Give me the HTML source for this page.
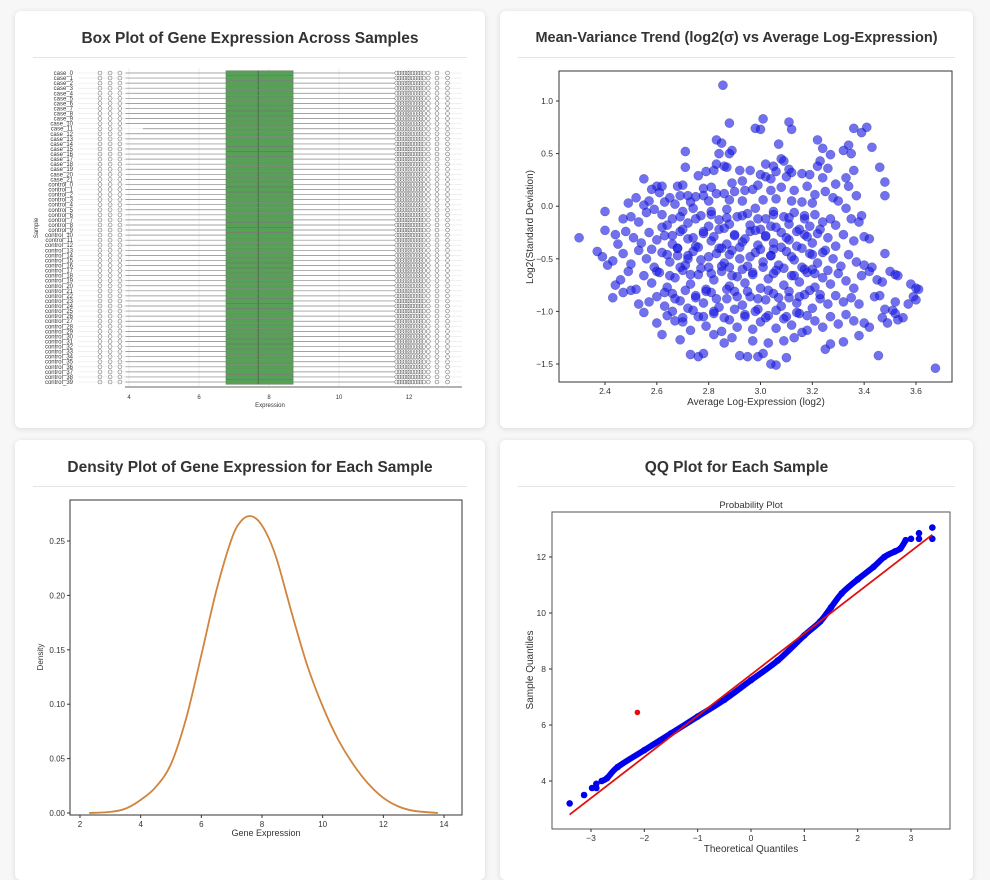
<!DOCTYPE html>
<html><head><meta charset="utf-8">
<style>
body{margin:0;background:#f7f7f7;width:990px;height:873px;overflow:hidden;font-family:"Liberation Sans",sans-serif;}
.card{position:absolute;background:#fff;border-radius:6px;box-shadow:0 1px 6px rgba(0,0,0,0.12);}
.card h2{position:absolute;left:0;right:0;top:19px;margin:0;text-align:center;font-size:15.5px;font-weight:bold;color:#333;white-space:nowrap;}
.card .sep{position:absolute;left:18px;right:18px;top:46px;border-top:1px solid #e4e4e4;}
svg{position:absolute;left:0;top:0;}
text{font-family:"Liberation Sans",sans-serif;fill:#333;}
</style></head>
<body>
<div class="card" style="left:15px;top:11px;width:470px;height:417px"><h2>Box Plot of Gene Expression Across Samples</h2><div class="sep"></div></div>
<div class="card" style="left:500px;top:11px;width:473px;height:417px"><h2 style="font-size:14.5px">Mean-Variance Trend (log2(σ) vs Average Log-Expression)</h2><div class="sep"></div></div>
<div class="card" style="left:15px;top:440px;width:470px;height:440px"><h2>Density Plot of Gene Expression for Each Sample</h2><div class="sep"></div></div>
<div class="card" style="left:500px;top:440px;width:473px;height:440px"><h2>QQ Plot for Each Sample</h2><div class="sep"></div></div>
<svg id="s" width="990" height="873"></svg>
<script>
// ---------- data ----------
const boxStats=[3.9,6.77,7.69,8.69,11.6]; // whiskerLo,q1,median,q3,whiskerHi
const leftOutliers=[3.17,3.46,3.74];
const rightOutliers=[11.65,11.72,11.8,11.88,11.95,12.02,12.1,12.18,12.26,12.34,12.42,12.55,12.8,13.1];
const boxXTicks=[4,6,8,10,12];
const scatterX=[2.855,3.01,3.11,2.88,2.98,3.00,3.12,3.36,3.39,3.41,2.83,2.85,3.07,3.22,3.24,3.34,3.32,3.43,2.71,2.89,2.88,2.84,3.08,3.09,3.35,3.27,3.23,2.83,3.02,3.05,2.71,2.79,2.82,2.86,2.87,2.92,2.96,3.02,3.06,3.11,3.12,3.16,3.22,3.26,3.36,3.46,3.48,2.55,2.76,2.93,3.00,3.04,3.10,3.19,3.24,3.33,3.29,2.60,2.62,2.68,2.70,2.78,2.81,2.89,2.52,2.49,2.55,2.57,2.63,2.65,2.69,2.72,2.75,2.78,2.83,2.86,2.90,2.94,2.97,2.99,3.04,3.08,3.13,3.18,3.21,3.25,3.28,3.34,3.37,3.48,2.61,2.58,2.67,2.73,2.80,2.88,2.93,3.01,3.06,3.12,3.16,3.20,3.30,2.40,2.47,2.50,2.53,2.56,2.59,2.62,2.66,2.70,2.74,2.77,2.81,2.84,2.87,2.91,2.95,2.98,3.02,3.05,3.09,3.13,3.17,3.21,3.24,3.27,3.33,3.39,3.35,2.64,2.72,2.80,2.88,2.96,3.04,3.11,3.19,3.29,3.38,2.40,2.44,2.48,2.51,2.54,2.57,2.60,2.63,2.66,2.69,2.72,2.75,2.78,2.81,2.84,2.87,2.90,2.93,2.96,2.99,3.02,3.05,3.08,3.11,3.14,3.17,3.20,3.23,3.26,3.29,3.32,3.36,3.40,3.42,2.30,2.45,2.68,2.85,3.00,3.15,2.37,2.39,2.43,2.47,2.50,2.53,2.56,2.59,2.62,2.65,2.68,2.71,2.74,2.77,2.80,2.83,2.86,2.89,2.92,2.95,2.98,3.01,3.04,3.07,3.10,3.13,3.16,3.19,3.22,3.25,3.28,3.31,3.34,3.37,3.40,3.43,3.48,2.41,2.58,2.72,2.88,3.05,3.20,2.44,2.46,2.49,2.52,2.55,2.58,2.61,2.64,2.67,2.70,2.73,2.76,2.79,2.82,2.85,2.88,2.91,2.94,2.97,3.00,3.03,3.06,3.09,3.12,3.15,3.18,3.21,3.24,3.27,3.30,3.33,3.36,3.39,3.42,3.45,3.47,3.50,3.52,3.53,3.58,3.60,3.61,2.43,2.50,2.47,2.53,2.57,2.60,2.63,2.66,2.69,2.72,2.75,2.78,2.81,2.84,2.87,2.90,2.93,2.96,2.99,3.02,3.05,3.08,3.11,3.14,3.17,3.20,3.23,3.26,3.29,3.32,3.35,3.38,3.44,3.46,3.48,3.51,3.52,3.57,3.59,3.60,2.55,2.60,2.62,2.64,2.67,2.70,2.73,2.76,2.79,2.82,2.85,2.88,2.91,2.94,2.97,3.00,3.03,3.06,3.09,3.12,3.15,3.18,3.21,3.24,3.27,3.30,3.33,3.36,3.40,3.42,3.47,3.49,3.52,3.55,3.53,2.69,2.73,2.76,2.78,2.82,2.86,2.89,2.92,2.95,2.97,2.99,3.01,3.03,3.04,3.06,3.09,3.10,3.13,3.16,3.25,3.27,3.32,3.38,3.455,3.675,
2.62,2.66,2.70,2.74,2.78,2.82,2.86,2.90,2.94,2.98,3.02,3.06,3.10,3.14,3.18,3.22,2.64,2.68,2.72,2.76,2.80,2.84,2.88,2.92,2.96,3.00,3.04,3.08,3.12,3.16,3.20,3.24,2.60,2.65,2.69,2.73,2.77,2.81,2.85,2.89,2.93,2.97,3.01,3.05,3.09,3.13,3.17,3.21,3.26,2.63,2.67,2.71,2.75,2.79,2.83,2.87,2.91,2.95,2.99,3.03,3.07,3.11,3.15,3.19,3.23,2.66,2.70,2.74,2.78,2.82,2.86,2.90,2.94,2.98,3.02,3.06,3.10,3.14,3.18,2.69,2.75,2.81,2.87,2.93,2.99,3.05,3.11,3.17];
const scatterY=[1.15,0.83,0.80,0.79,0.74,0.73,0.73,0.74,0.70,0.75,0.63,0.60,0.59,0.63,0.55,0.58,0.53,0.56,0.52,0.53,0.50,0.50,0.45,0.43,0.50,0.49,0.43,0.40,0.40,0.38,0.37,0.33,0.34,0.38,0.37,0.34,0.34,0.28,0.33,0.35,0.32,0.31,0.38,0.36,0.34,0.37,0.23,0.26,0.29,0.24,0.30,0.26,0.28,0.30,0.27,0.27,0.21,0.19,0.19,0.19,0.20,0.17,0.18,0.22,0.08,0.03,0.01,0.05,0.04,0.08,0.10,0.10,0.09,0.10,0.12,0.12,0.14,0.15,0.16,0.20,0.15,0.18,0.15,0.19,0.11,0.14,0.08,0.19,0.10,0.10,0.13,0.16,0.02,0.04,0.05,0.06,0.05,0.06,0.07,0.05,0.04,0.03,0.05,-0.05,-0.12,-0.10,-0.15,-0.06,-0.03,-0.08,-0.12,-0.05,-0.02,-0.09,-0.05,-0.13,-0.03,-0.10,-0.07,-0.02,-0.12,-0.05,-0.10,-0.06,-0.12,-0.08,-0.15,-0.12,-0.02,-0.09,-0.12,-0.18,-0.16,-0.19,-0.17,-0.18,-0.19,-0.17,-0.19,-0.18,-0.15,-0.23,-0.27,-0.24,-0.30,-0.35,-0.25,-0.32,-0.28,-0.36,-0.24,-0.31,-0.38,-0.26,-0.33,-0.22,-0.36,-0.28,-0.34,-0.24,-0.37,-0.29,-0.35,-0.25,-0.32,-0.38,-0.27,-0.35,-0.22,-0.30,-0.38,-0.27,-0.33,-0.29,-0.31,-0.30,-0.36,-0.40,-0.40,-0.22,-0.22,-0.43,-0.48,-0.52,-0.45,-0.55,-0.42,-0.50,-0.58,-0.44,-0.53,-0.47,-0.56,-0.43,-0.51,-0.58,-0.45,-0.54,-0.42,-0.50,-0.57,-0.44,-0.53,-0.47,-0.56,-0.43,-0.51,-0.58,-0.45,-0.54,-0.42,-0.50,-0.57,-0.46,-0.53,-0.56,-0.58,-0.45,-0.56,-0.41,-0.50,-0.58,-0.41,-0.60,-0.75,-0.70,-0.62,-0.79,-0.66,-0.73,-0.63,-0.77,-0.68,-0.61,-0.74,-0.65,-0.79,-0.70,-0.62,-0.76,-0.67,-0.73,-0.63,-0.78,-0.69,-0.61,-0.75,-0.66,-0.72,-0.63,-0.77,-0.68,-0.74,-0.64,-0.71,-0.78,-0.66,-0.62,-0.70,-0.72,-0.62,-0.65,-0.66,-0.74,-0.78,-0.79,-0.87,-0.80,-0.82,-0.93,-0.91,-0.86,-0.95,-0.83,-0.90,-0.97,-0.85,-0.92,-0.82,-0.96,-0.88,-0.81,-0.94,-0.86,-0.98,-0.89,-0.83,-0.95,-0.87,-0.92,-0.84,-0.97,-0.88,-0.93,-0.85,-0.91,-0.87,-0.93,-0.86,-0.85,-0.98,-0.99,-0.91,-0.93,-0.86,-0.89,-1.01,-1.11,-1.22,-1.04,-1.09,-1.10,-1.18,-1.05,-1.14,-1.02,-1.19,-1.08,-1.15,-1.03,-1.17,-1.10,-1.04,-1.16,-1.07,-1.13,-1.02,-1.18,-1.09,-1.15,-1.05,-1.12,-1.03,-1.09,-1.11,-1.15,-1.06,-1.11,-1.02,-1.06,-1.08,-1.27,-1.41,-1.43,-1.40,-1.22,-1.30,-1.25,-1.42,-1.43,-1.28,-1.43,-1.40,-1.30,-1.50,-1.51,-1.28,-1.44,-1.25,-1.20,-1.36,-1.31,-1.29,-1.23,-1.42,-1.54,
-0.20,-0.28,-0.22,-0.30,-0.24,-0.29,-0.21,-0.27,-0.31,-0.23,-0.28,-0.20,-0.30,-0.24,-0.29,-0.26,-0.46,-0.40,-0.47,-0.39,-0.48,-0.40,-0.46,-0.39,-0.48,-0.41,-0.47,-0.39,-0.48,-0.40,-0.46,-0.44,-0.62,-0.66,-0.58,-0.65,-0.59,-0.64,-0.57,-0.66,-0.60,-0.65,-0.58,-0.64,-0.59,-0.66,-0.60,-0.64,-0.61,-0.82,-0.88,-0.80,-0.87,-0.81,-0.88,-0.79,-0.86,-0.81,-0.88,-0.80,-0.87,-0.81,-0.86,-0.80,-0.84,-1.00,-1.06,-0.99,-1.05,-1.00,-1.06,-0.98,-1.05,-1.00,-1.06,-0.99,-1.05,-1.01,-1.04,-0.10,-0.12,-0.08,-0.11,-0.09,-0.12,-0.08,-0.11,-0.09];
const scXTicks=[2.4,2.6,2.8,3.0,3.2,3.4,3.6];
const scYTicks=[1.0,0.5,0.0,-0.5,-1.0,-1.5];
const densX=[2.3,3,3.5,4,4.5,5,5.5,6,6.5,7,7.3,7.6,7.9,8.2,8.5,9,9.5,10,10.5,11,11.5,12,12.5,13,13.8];
const densY=[0,0.001,0.004,0.012,0.024,0.045,0.087,0.145,0.205,0.252,0.268,0.273,0.268,0.254,0.232,0.182,0.135,0.098,0.068,0.045,0.027,0.014,0.006,0.002,0];
const densXTicks=[2,4,6,8,10,12,14];
const densYTicks=[0,0.05,0.10,0.15,0.20,0.25];
const qqTheo=[-3.4,-3.13,-2.98,-2.9,-2.9,-2.8,-2.7,-2.5,-2,-1.5,-1,-0.5,0,0.5,1,1.3,1.5,1.7,2,2.3,2.5,2.7,2.8,2.9,3.0,3.15,3.15,3.4,3.4];
const qqSample=[3.2,3.5,3.75,3.9,3.75,4.0,4.1,4.5,5.1,5.7,6.3,6.9,7.6,8.3,9.2,9.7,10.2,10.7,11.2,11.65,12.0,12.2,12.3,12.6,12.65,12.85,12.65,13.05,12.65];
const qqFit=[7.8,1.47]; // intercept, slope
const qqOutlier=[-2.13,6.45];
const qqXTicks=[-3,-2,-1,0,1,2,3];
const qqYTicks=[4,6,8,10,12];

// ---------- helpers ----------
const S=document.getElementById('s');const NS='http://www.w3.org/2000/svg';
function mk(t,a,p){const e=document.createElementNS(NS,t);for(const k in a)e.setAttribute(k,a[k]);(p||S).appendChild(e);return e;}
function txt(x,y,s,o){const e=mk('text',Object.assign({x:x,y:y,'font-size':10,'text-anchor':'middle'},o||{}));e.textContent=s;return e;}
function lin(d0,d1,r0,r1){return v=>r0+(v-d0)*(r1-r0)/(d1-d0);}
function smooth(pts){let d='M'+pts[0][0].toFixed(1)+','+pts[0][1].toFixed(1);for(let i=0;i<pts.length-1;i++){const p0=pts[i-1]||pts[i],p1=pts[i],p2=pts[i+1],p3=pts[i+2]||p2;const c1=[p1[0]+(p2[0]-p0[0])/6,p1[1]+(p2[1]-p0[1])/6],c2=[p2[0]-(p3[0]-p1[0])/6,p2[1]-(p3[1]-p1[1])/6];d+='C'+c1.map(v=>v.toFixed(1))+' '+c2.map(v=>v.toFixed(1))+' '+p2[0].toFixed(1)+','+p2[1].toFixed(1);}return d;}

// ---------- box plot ----------
{const g=mk('g',{});


const X=lin(4,12,129,409);
boxXTicks.forEach(t=>{mk('line',{x1:X(t),x2:X(t),y1:68,y2:386,stroke:'#eee','stroke-width':1},g);const tt=txt(X(t),399,String(t),{'font-size':6});g.appendChild(tt);});
mk('line',{x1:125,x2:462,y1:387,y2:387,stroke:'#333','stroke-width':0.8},g);
const labels=[];for(let i=0;i<22;i++)labels.push('case_'+i);for(let i=0;i<40;i++)labels.push('control_'+i);
const dy=(382-73)/61;
labels.forEach((l,i)=>{const y=73+i*dy;
 mk('line',{x1:78,x2:462,y1:y,y2:y,stroke:'#e6e6e6','stroke-width':0.6},g);
 const t=txt(73,y+2,l,{'font-size':6,'text-anchor':'end'});g.appendChild(t);
 const lo=(i===11)?4.4:boxStats[0];
 mk('line',{x1:X(lo),x2:X(boxStats[1]),y1:y,y2:y,stroke:'#888','stroke-width':0.7},g);
 mk('line',{x1:X(boxStats[3]),x2:X(boxStats[4]),y1:y,y2:y,stroke:'#888','stroke-width':0.7},g);
 const b=mk('rect',{x:X(boxStats[1]),y:y-2.3,width:X(boxStats[3])-X(boxStats[1]),height:4.6,fill:'#57a157',stroke:'#6a7a6a','stroke-width':0.5},g);
 
 mk('line',{x1:X(boxStats[2]),x2:X(boxStats[2]),y1:y-2.3,y2:y+2.3,stroke:'#4a5a4a','stroke-width':0.8},g);
 leftOutliers.forEach(v=>mk('circle',{cx:X(v),cy:y,r:2,fill:'none',stroke:'#666','stroke-width':0.5},g));
 rightOutliers.forEach(v=>mk('circle',{cx:X(v),cy:y,r:2,fill:'none',stroke:'#666','stroke-width':0.5},g));
});
const xl=txt(270,407,'Expression',{'font-size':6});g.appendChild(xl);
const yl=txt(38,228,'Sample',{'font-size':6,transform:'rotate(-90 38 228)'});g.appendChild(yl);
}

// ---------- scatter ----------
{const g=mk('g',{});


const X=lin(2.4,3.6,605,916),Y=lin(1,-1.5,101,364);
mk('rect',{x:559,y:71,width:393,height:311,fill:'#fff',stroke:'#333','stroke-width':1},g);
scatterX.forEach((v,i)=>{const c=mk('circle',{cx:X(v),cy:Y(scatterY[i]),r:4.6,fill:'#1a1ae6','fill-opacity':0.62,stroke:'#000055','stroke-opacity':0.35,'stroke-width':0.5},g);});
scXTicks.forEach(t=>{mk('line',{x1:X(t),x2:X(t),y1:382,y2:385,stroke:'#333'},g);const tt=txt(X(t),394,t.toFixed(1),{'font-size':8.5});g.appendChild(tt);});
scYTicks.forEach(t=>{mk('line',{x1:556,x2:559,y1:Y(t),y2:Y(t),stroke:'#333'},g);const tt=txt(553,Y(t)+3,t.toFixed(1).replace('-','−'),{'font-size':8.5,'text-anchor':'end'});g.appendChild(tt);});
const xl=txt(756,405,'Average Log-Expression (log2)',{'font-size':10});g.appendChild(xl);
const yl=txt(533,227,'Log2(Standard Deviation)',{'font-size':10,transform:'rotate(-90 533 227)'});g.appendChild(yl);
}

// ---------- density ----------
{const g=mk('g',{});


const X=lin(2,14,80,444),Y=lin(0,0.25,813,541);
mk('rect',{x:70,y:500,width:392,height:315,fill:'#fff',stroke:'#333','stroke-width':1},g);
const p=mk('path',{d:smooth(densX.map((v,i)=>[X(v),Y(densY[i])])),fill:'none',stroke:'#d0843c','stroke-width':1.8,'stroke-linejoin':'round'},g);

densXTicks.forEach(t=>{mk('line',{x1:X(t),x2:X(t),y1:815,y2:818,stroke:'#333'},g);const tt=txt(X(t),827,String(t),{'font-size':8});g.appendChild(tt);});
densYTicks.forEach(t=>{mk('line',{x1:67,x2:70,y1:Y(t),y2:Y(t),stroke:'#333'},g);const tt=txt(65,Y(t)+3,t.toFixed(2),{'font-size':8,'text-anchor':'end'});g.appendChild(tt);});
const xl=txt(266,836,'Gene Expression',{'font-size':9});g.appendChild(xl);
const yl=txt(43,657,'Density',{'font-size':8,transform:'rotate(-90 43 657)'});g.appendChild(yl);
}

// ---------- QQ ----------
{const g=mk('g',{});


const X=lin(0,3,751,911),Y=lin(4,12,781,557);
mk('rect',{x:552,y:512,width:398,height:317,fill:'#fff',stroke:'#555','stroke-width':1},g);
const bandPts=qqTheo.slice(5,24).map((v,i)=>[X(v),Y(qqSample[i+5])]);
const band=mk('path',{d:smooth(bandPts),fill:'none',stroke:'#0000ee','stroke-width':6,'stroke-linejoin':'round','stroke-linecap':'round'},g);

qqTheo.forEach((v,i)=>{const c=mk('circle',{cx:X(v),cy:Y(qqSample[i]),r:3.3,fill:'#0000ee'},g);});
const l=mk('line',{x1:X(-3.4),y1:Y(qqFit[0]+qqFit[1]*-3.4),x2:X(3.4),y2:Y(qqFit[0]+qqFit[1]*3.4),stroke:'#e01010','stroke-width':1.8},g);

const o=mk('circle',{cx:X(qqOutlier[0]),cy:Y(qqOutlier[1]),r:2.8,fill:'#e01010'},g);
qqXTicks.forEach(t=>{mk('line',{x1:X(t),x2:X(t),y1:829,y2:832,stroke:'#333'},g);const tt=txt(X(t),841,String(t).replace('-','−'),{'font-size':8.5});g.appendChild(tt);});
qqYTicks.forEach(t=>{mk('line',{x1:549,x2:552,y1:Y(t),y2:Y(t),stroke:'#333'},g);const tt=txt(546,Y(t)+3,String(t),{'font-size':8.5,'text-anchor':'end'});g.appendChild(tt);});
const tl=txt(751,508,'Probability Plot',{'font-size':9.5});g.appendChild(tl);
const xl=txt(751,852,'Theoretical Quantiles',{'font-size':10});g.appendChild(xl);
const yl=txt(533,670,'Sample Quantiles',{'font-size':10,transform:'rotate(-90 533 670)'});g.appendChild(yl);
}
</script>
</body></html>
